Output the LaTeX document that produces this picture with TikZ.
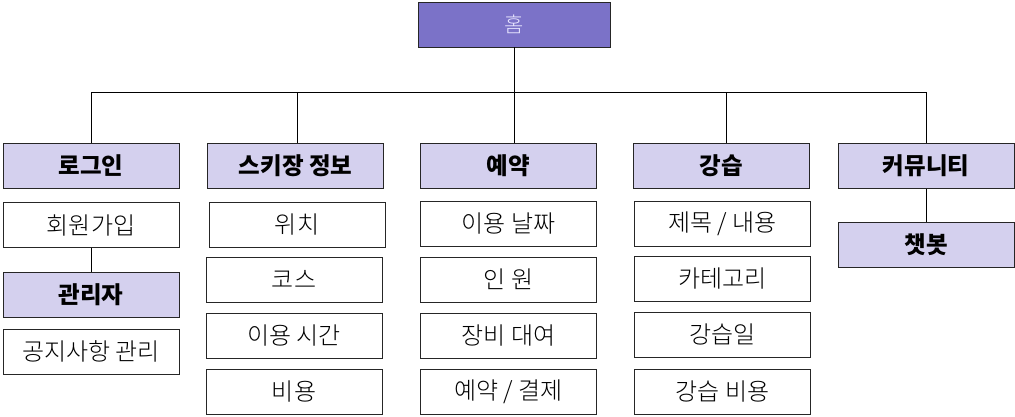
\documentclass[tikz,border=0pt]{standalone}
\usepackage{fontspec}
\setmainfont{Noto Sans CJK KR}
\newfontfamily\krlight{Noto Sans CJK KR Light}
\usepackage{tikz}
\usepackage{color}
\definecolor{homefill}{RGB}{123,114,200}
\definecolor{headfill}{RGB}{212,208,238}
\definecolor{homefont}{RGB}{232,230,255}

\begin{document}
\begin{tikzpicture}[x=1pt,y=1pt]
\tikzstyle{every node}+=[inner sep=0pt]
\tikzstyle{box}=[draw=black!85, line width=0.8pt, minimum width=176pt, minimum height=45pt, font=\krlight\fontsize{24}{27}\selectfont]
\tikzstyle{head}=[box, fill=headfill, font=\fontsize{23.5}{26}\selectfont\bfseries]
\tikzstyle{homebox}=[box, fill=homefill, minimum width=192pt, text=homefont, font=\krlight\fontsize{21}{24}\selectfont]
\tikzstyle{link}=[black, line width=0.8pt]
\useasboundingbox (0,0) rectangle (1015,-416);
\draw (514,-24.5) node [homebox] (home) {홈};
\coordinate (bus) at (514,-92);
\draw (91,-166) node [head] (login) {로그인};
\draw (295.5,-166) node [head] (ski) {스키장 정보};
\draw (508,-166) node [head] (resv) {예약};
\draw (721.5,-166) node [head] (lesson) {강습};
\draw (926,-166) node [head] (comm) {커뮤니티};
\draw (91,-225) node [box] (join) {회원가입};
\draw (91,-295) node [head] (admin) {관리자};
\draw (91,-351.5) node [box] (notice) {공지사항 관리};
\draw (297,-225) node [box] (place) {위치};
\draw (294,-279.5) node [box] (course) {코스};
\draw (294,-335.5) node [box] (usetime) {이용 시간};
\draw (294,-391.5) node [box] (cost) {비용};
\draw (508.5,-224) node [box] (usedate) {이용 날짜};
\draw (508.5,-279.5) node [box] (people) {인 원};
\draw (508.5,-335.5) node [box] (rental) {장비 대여};
\draw (508.5,-391.5) node [box] (pay) {예약 / 결제};
\draw (722.5,-224) node [box] (title) {제목 / 내용};
\draw (722.5,-279) node [box] (category) {카테고리};
\draw (722.5,-334.5) node [box] (lday) {강습일};
\draw (722.5,-391.5) node [box] (lcost) {강습 비용};
\draw (926,-244.5) node [head] (bot) {챗봇};
\draw [link] (home.south) -- (bus);
\draw [link] (login.north) |- (bus);
\draw [link] (ski.north -| 297,0) |- (bus);
\draw [link] (resv.north -| bus) -- (bus);
\draw [link] (lesson.north -| 726,0) |- (bus);
\draw [link] (comm.north) |- (bus);
\draw [link] (join.south) -- (admin.north);
\draw [link] (comm.south) -- (bot.north);
\end{tikzpicture}
\end{document}
